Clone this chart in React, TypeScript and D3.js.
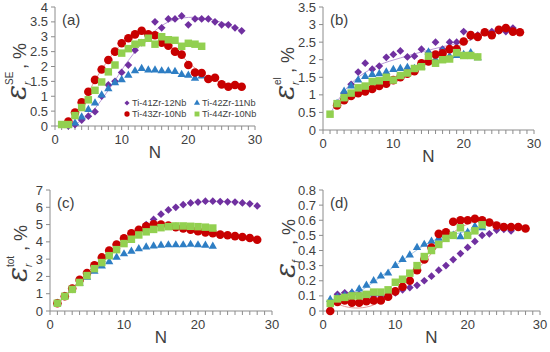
import React from "react";
import * as d3 from "d3";

type Pt = [number, number];
const fromN = (start: number, values: number[]): Pt[] =>
  values.map((v, i) => [start + i, v] as Pt);

const SERIES_NAMES = ["Ti-41Zr-12Nb", "Ti-42Zr-11Nb", "Ti-43Zr-10Nb", "Ti-44Zr-10Nb"];
const SERIES_COLORS = ["#7030A0", "#2E7EC4", "#C80000", "#92D050"];
const SERIES_SHAPES = ["diamond", "triangle", "circle", "square"];

const N_TICKS = [0, 10, 20, 30];

// (a) epsilon_r^SE
const aPurple = fromN(2, [0.0, 0.05, 0.2, 0.33, 0.48, 1.0, 1.38, 1.5, 1.8, 2.05, 2.55, 2.8, 3.0, 3.5, 3.3, 3.6, 3.6, 3.7, 3.4, 3.6, 3.6, 3.6, 3.5, 3.4, 3.4, 3.3, 3.2]);
const aBlue = fromN(2, [0.02, 0.1, 0.3, 0.55, 0.77, 1.04, 1.25, 1.45, 1.55, 1.7, 1.85, 1.93, 1.88, 1.88, 1.85, 1.85, 1.83, 1.73, 1.7, 1.6, 1.68]);
const aRed = fromN(2, [0.15, 0.45, 0.8, 1.15, 1.55, 1.9, 2.22, 2.5, 2.78, 2.95, 3.08, 3.2, 3.08, 3.05, 2.8, 2.7, 2.5, 2.4, 2.05, 1.8, 1.78, 1.58, 1.62, 1.4, 1.32, 1.38, 1.32]);
const aGreen = fromN(1, [0.05, 0.05, 0.35, 0.62, 0.88, 1.2, 1.48, 1.82, 2.05, 2.45, 2.6, 2.75, 2.8, 2.95, 2.75, 3.0, 2.9, 2.88, 2.68, 2.78, 2.75, 2.68]);
const aTrendPurple: Pt[] = [[2.5, 0], [5, 0.35], [8, 1.2], [11, 2.2], [14, 3.0], [17, 3.5], [20, 3.65], [23, 3.6], [26, 3.4], [28, 3.2]];
const aTrendRed: Pt[] = [[1.5, 0], [4, 0.75], [7, 1.9], [10, 2.75], [13, 3.1], [15, 3.0], [18, 2.55], [21, 1.95], [24, 1.55], [26, 1.4], [28, 1.4]];
const Y_TICKS_A = [0, 0.5, 1, 1.5, 2, 2.5, 3, 3.5, 4];

// (b) epsilon_r^el
const bPurple = fromN(2, [0.75, 1.05, 1.3, 1.65, 1.9, 1.73, 1.82, 2.07, 2.15, 2.25, 2.08, 2.1, 2.3, 2.2, 2.5, 2.3, 2.5, 2.5, 2.8, 2.65, 2.7, 2.78, 2.8, 2.82, 2.8, 2.9]);
const bBlue = fromN(2, [0.75, 1.1, 1.25, 1.42, 1.52, 1.58, 1.6, 1.65, 1.72, 1.75, 1.78, 1.75, 1.8, 2.22, 2.0, 2.25, 2.1, 2.12, 2.15, 2.2, 2.05]);
const bRed = fromN(2, [0.7, 0.85, 0.97, 1.05, 1.1, 1.17, 1.25, 1.32, 1.42, 1.5, 1.6, 1.67, 1.9, 1.95, 2.15, 2.18, 2.3, 2.3, 2.52, 2.7, 2.65, 2.78, 2.7, 2.85, 2.9, 2.8, 2.78]);
const bGreen = fromN(1, [0.45, 0.75, 0.92, 1.05, 1.2, 1.25, 1.38, 1.4, 1.5, 1.42, 1.55, 1.62, 1.75, 1.8, 2.1, 1.9, 2.0, 2.02, 2.2, 2.12, 2.12, 2.08]);
const bTrendPurple: Pt[] = [[1, 0.45], [3, 1.1], [5, 1.5], [8, 1.85], [11, 2.05], [14, 2.22], [17, 2.37], [20, 2.5]];
const bTrendRed: Pt[] = [[2, 0.7], [6, 1.1], [10, 1.42], [14, 1.85], [18, 2.25], [22, 2.65], [26, 2.85], [28, 2.85]];
const Y_TICKS_B = [0, 0.5, 1, 1.5, 2, 2.5, 3, 3.5];

// (c) epsilon_r^tot
const cPurple = fromN(1, [0.45, 0.85, 1.25, 1.7, 2.1, 2.5, 2.85, 3.25, 3.6, 3.95, 4.25, 4.6, 5.0, 5.3, 5.6, 5.85, 6.0, 6.15, 6.25, 6.3, 6.35, 6.35, 6.33, 6.32, 6.3, 6.25, 6.2, 6.08]);
const cBlue = fromN(1, [0.45, 0.85, 1.25, 1.6, 1.95, 2.3, 2.6, 2.85, 3.1, 3.3, 3.45, 3.6, 3.7, 3.75, 3.8, 3.82, 3.82, 3.82, 3.85, 3.82, 3.8, 3.74]);
const cRed = fromN(1, [0.45, 0.85, 1.3, 1.8, 2.2, 2.65, 3.1, 3.5, 3.85, 4.2, 4.5, 4.7, 4.9, 5.02, 5.0, 4.95, 4.85, 4.78, 4.7, 4.62, 4.55, 4.5, 4.42, 4.38, 4.33, 4.28, 4.22, 4.12]);
const cGreen = fromN(1, [0.45, 0.85, 1.25, 1.65, 2.05, 2.45, 2.8, 3.2, 3.55, 3.9, 4.15, 4.4, 4.58, 4.72, 4.82, 4.88, 4.92, 4.92, 4.9, 4.88, 4.85, 4.8]);
const cTrendRed: Pt[] = [[1, 0.4], [4, 1.75], [7, 3.05], [10, 4.1], [13, 4.75], [16, 4.95], [19, 4.85], [22, 4.6]];
const Y_TICKS_C = [0, 1, 2, 3, 4, 5, 6, 7];

// (d) epsilon_f
const dPurple = fromN(2, [0.11, 0.12, 0.12, 0.11, 0.1, 0.1, 0.1, 0.1, 0.12, 0.14, 0.155, 0.17, 0.2, 0.23, 0.27, 0.3, 0.34, 0.38, 0.42, 0.46, 0.5, 0.51, 0.535, 0.54, 0.53]);
const dBlue = fromN(1, [0.075, 0.09, 0.1, 0.12, 0.145, 0.17, 0.2, 0.23, 0.25, 0.3, 0.34, 0.37, 0.42, 0.44, 0.46, 0.48, 0.5, 0.5, 0.49, 0.52, 0.56, 0.55]);
const dRed = fromN(1, [0.0, 0.06, 0.07, 0.055, 0.055, 0.065, 0.07, 0.07, 0.095, 0.13, 0.16, 0.2, 0.27, 0.34, 0.42, 0.51, 0.52, 0.59, 0.6, 0.6, 0.61, 0.6, 0.585, 0.565, 0.555, 0.555, 0.555, 0.545]);
const dGreen = fromN(1, [0.05, 0.08, 0.09, 0.1, 0.1, 0.11, 0.125, 0.125, 0.14, 0.19, 0.21, 0.25, 0.3, 0.36, 0.4, 0.44, 0.48, 0.5, 0.55, 0.5, 0.53, 0.57]);
const dTrendRed: Pt[] = [[1, 0.07], [3, 0.03], [5, 0.02], [7, 0.04], [9, 0.1], [12, 0.22], [15, 0.38], [18, 0.52], [21, 0.59], [24, 0.585], [27, 0.55], [28, 0.54]];
const dTrendBlue: Pt[] = [[1, 0.07], [5, 0.13], [10, 0.3], [15, 0.46], [20, 0.53], [22, 0.56]];
const Y_TICKS_D = [0, 0.1, 0.2, 0.3, 0.4, 0.5, 0.6, 0.7, 0.8];

const FONT = "'Liberation Sans', Arial, sans-serif";
const TEXT = "#404040";
const AXIS = "#8c8c8c";

function Marker({ shape, color, x, y, size }: any) {
  if (shape === "diamond") {
    return <path d={d3.symbol(d3.symbolSquare, size)() || ""} transform={`translate(${x},${y}) rotate(45)`} fill={color} />;
  }
  const type = shape === "circle" ? d3.symbolCircle : shape === "square" ? d3.symbolSquare : d3.symbolTriangle;
  return <path d={d3.symbol(type, size)() || ""} transform={`translate(${x},${y})`} fill={color} />;
}

const MARK_SIZE: any = { diamond: 30, triangle: 30, circle: 58, square: 56 };
const LEGEND_SIZE: any = { diamond: 13, triangle: 16, circle: 22, square: 24 };

function Panel(p: any) {
  const x = d3.scaleLinear().domain([0, 30]).range([p.x0, p.x1]);
  const y = d3.scaleLinear().domain([0, p.yMax]).range([p.yBot, p.yTop]);
  const line = d3.line<Pt>().x(d => x(d[0])).y(d => y(d[1])).curve(d3.curveCatmullRom.alpha(0.5));
  const minor = d3.range(0, 31);
  return (
    <g>
      <line x1={p.x0} x2={p.x0} y1={p.yBot} y2={p.yTop} stroke={AXIS} />
      <line x1={p.x0} x2={p.x1} y1={p.yBot} y2={p.yBot} stroke={AXIS} />
      {p.yTicks.map((t: number) => (
        <g key={"y" + t}>
          <line x1={p.x0 - 4} x2={p.x0} y1={y(t)} y2={y(t)} stroke={AXIS} />
          <text x={p.x0 - 7} y={y(t)} dy="0.35em" textAnchor="end" fontSize={13} fill={TEXT}>{String(t)}</text>
        </g>
      ))}
      {minor.map(t => (
        <line key={"m" + t} x1={x(t)} x2={x(t)} y1={p.yBot} y2={p.yBot + 4} stroke={AXIS} />
      ))}
      {N_TICKS.map(t => (
        <text key={"x" + t} x={x(t)} y={p.yBot + 18} textAnchor="middle" fontSize={13} fill={TEXT}>{t}</text>
      ))}
      <text x={(p.x0 + p.x1) / 2} y={p.yBot + 32} textAnchor="middle" fontSize={17} fill={TEXT}>N</text>
      <text x={p.x0 + 7} y={p.yTop + 18} fontSize={15} fill={TEXT}>{p.tag}</text>

      {p.trends.map((tr: any, i: number) => (
        <path key={"t" + i} d={line(tr.points) || ""} fill="none" stroke={tr.color} strokeWidth={1} />
      ))}
      {p.series.map((s: Pt[], i: number) => (
        <g key={"s" + i}>
          {s.map((d, j) => (
            <Marker key={j} shape={SERIES_SHAPES[i]} color={SERIES_COLORS[i]} x={x(d[0])} y={y(d[1])} size={MARK_SIZE[SERIES_SHAPES[i]]} />
          ))}
        </g>
      ))}

      <g transform={`translate(${p.labelX},${p.labelY}) rotate(-90)`} fill={TEXT}>
        <text x={0} y={0} fontSize={28} fontStyle="italic" fontFamily="'DejaVu Serif', serif">ε</text>
        {p.sup && <text x={15} y={-13} fontSize={10}>{p.sup}</text>}
        <text x={15} y={5} fontSize={10} fontStyle="italic">{p.sub}</text>
        <text x={p.commaX} y={0} fontSize={18}>, %</text>
      </g>

      {p.legend && (
        <g fontSize={9.2} fill={TEXT}>
          {SERIES_NAMES.map((name, i) => {
            const lx = p.x0 + 72 + (i % 2) * 70;
            const ly = p.yBot - 23 + Math.floor(i / 2) * 11;
            return (
              <g key={name}>
                <Marker shape={SERIES_SHAPES[i]} color={SERIES_COLORS[i]} x={lx} y={ly} size={LEGEND_SIZE[SERIES_SHAPES[i]]} />
                <text x={lx + 5} y={ly} dy="0.35em">{name}</text>
              </g>
            );
          })}
        </g>
      )}
    </g>
  );
}

const LIGHT_PURPLE = "#B99AD6";
const LIGHT_RED = "#E59A9A";

const panels = [
  {
    tag: "(a)", x0: 55, x1: 255, yTop: 7, yBot: 126, yMax: 4, yTicks: Y_TICKS_A,
    series: [aPurple, aBlue, aRed, aGreen], sup: "SE", sub: "r", labelX: 26, labelY: 100, commaX: 31, legend: true,
    trends: [{ points: aTrendPurple, color: LIGHT_PURPLE }, { points: aTrendRed, color: LIGHT_RED }],
  },
  {
    tag: "(b)", x0: 323, x1: 534, yTop: 7, yBot: 130, yMax: 3.5, yTicks: Y_TICKS_B,
    series: [bPurple, bBlue, bRed, bGreen], sup: "el", sub: "r", labelX: 294, labelY: 100, commaX: 27,
    trends: [{ points: bTrendPurple, color: LIGHT_PURPLE }, { points: bTrendRed, color: "#E8B07A" }],
  },
  {
    tag: "(c)", x0: 50, x1: 272, yTop: 190, yBot: 311, yMax: 7, yTicks: Y_TICKS_C,
    series: [cPurple, cBlue, cRed, cGreen], sup: "tot", sub: "r", labelX: 27, labelY: 282, commaX: 31,
    trends: [{ points: cTrendRed, color: "#B5543A" }],
  },
  {
    tag: "(d)", x0: 323, x1: 540, yTop: 190, yBot: 311, yMax: 0.8, yTicks: Y_TICKS_D,
    series: [dPurple, dBlue, dRed, dGreen], sup: "", sub: "f", labelX: 295, labelY: 278, commaX: 33,
    trends: [{ points: dTrendBlue, color: "#9DC3E6" }, { points: dTrendRed, color: LIGHT_RED }],
  },
];

export default function App() {
  return (
    <svg width={550} height={352} style={{ position: "absolute", left: 0, top: 0, background: "#fff" }} fontFamily={FONT}>
      <rect width={550} height={352} fill="#fff" />
      {panels.map(p => <Panel key={p.tag} {...p} />)}
    </svg>
  );
}
